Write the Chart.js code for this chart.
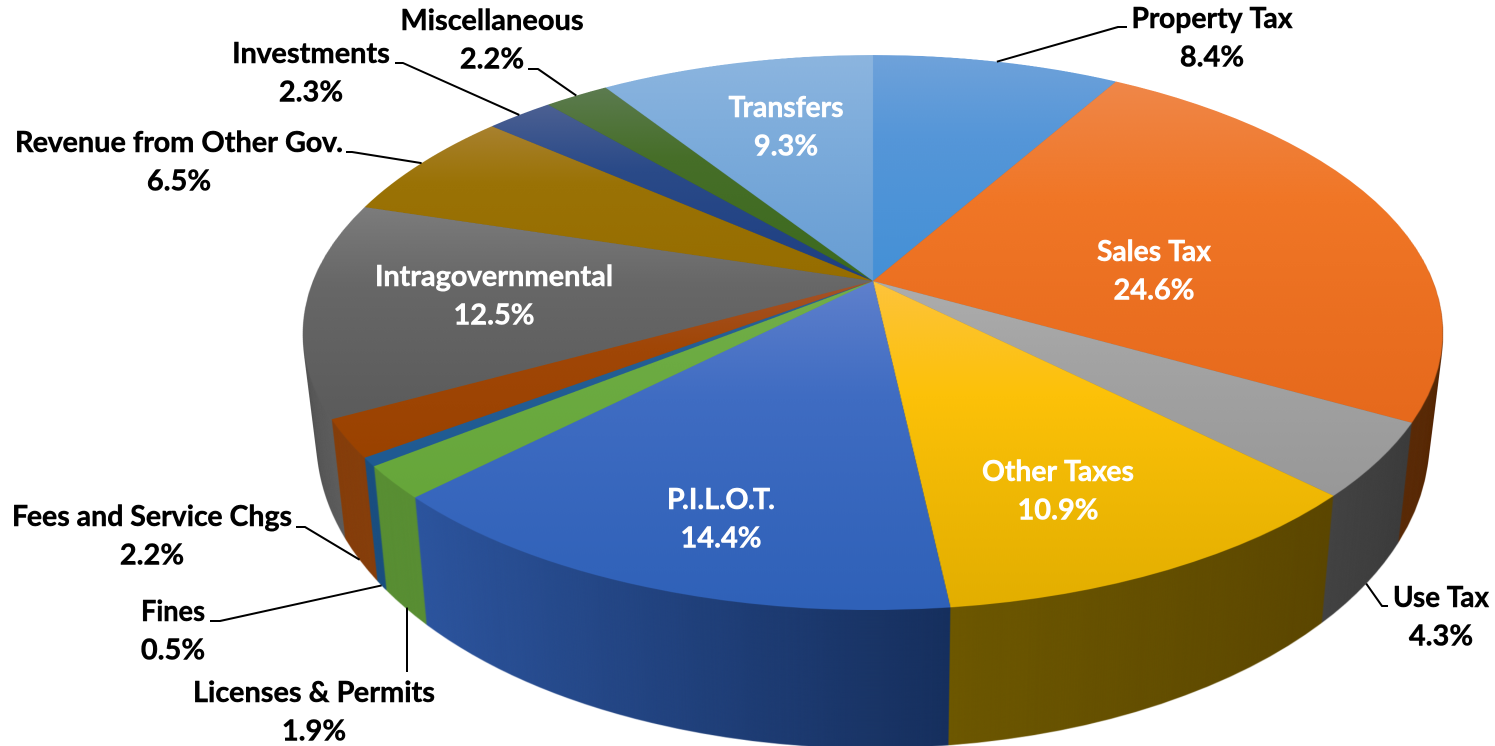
<!DOCTYPE html>
<html><head><meta charset="utf-8">
<style>html,body{margin:0;padding:0;background:#fff}canvas{display:block}</style>
<script src="https://cdn.jsdelivr.net/npm/chart.js@4/dist/chart.umd.min.js"></script>
</head><body><canvas id="c" width="1495" height="746"></canvas>
<script>
const categories=["Property Tax","Sales Tax","Use Tax","Other Taxes","P.I.L.O.T.","Licenses & Permits","Fines","Fees and Service Chgs","Intragovernmental","Revenue from Other Gov.","Investments","Miscellaneous","Transfers"];
const shares=[8.4,24.6,4.3,10.9,14.4,1.9,0.5,2.2,12.5,6.5,2.3,2.2,9.3];
const topColors=["#5b9bd5","#ed7d31","#a5a5a5","#ffc000","#4472c4","#70ad47","#255e91","#9e480e","#636363","#997300","#264478","#43682b","#7cafdd"];
const faceLight=["#6fa2da","#ef8749","#adadad","#fdc33c","#5f80cc","#72ae4a","#2a6296","#a5532a","#7c7c7c","#a8812f","#4c6092","#5c7b50","#8cb5df"];
const faceMid=["#5596d8","#f07626","#a3a3a3","#fcc108","#3f6cc2","#6cab42","#245e94","#a04606","#676767","#9a7205","#2a4a88","#466e28","#7dacdb"];
const faceDeep=["#4490d6","#e6691c","#989898","#e2ae00","#2f61b8","#66a63a","#1f5a92","#9a4200","#5b5b5b","#966d00","#1d3f82","#3c6a1e","#679dd3"];
const rimStart=["#2f5f8f","#5f2f0a","#3e3e3e","#5d4800","#17305e","#5a8f35","#1c5080","#87400e","#5f5f5f","#6a5000","#1a3055","#2e4a1e","#4f7fa8"];
const rimEnd=["#2f5f8f","#5c2d0a","#444444","#6d5800","#2e569f","#5a8f35","#1c5080","#87400e","#5a5a5a","#6a5000","#1a3055","#2e4a1e","#4f7fa8"];

// label layout: centre x, first baseline, text width, white?, leader elbow points
const labelLayout=[
 {x:1212,y:28,w:161,lead:[[1118,27],[1127,27]]},
 {x:1154,y:261,w:114,white:true},
 {x:1441,y:607,w:96,rim:true,lead:[[1382,606],[1388,606]]},
 {x:1058,y:481,w:152,white:true},
 {x:721,y:509,w:108,white:true},
 {x:314,y:702,w:242,rim:true,lead:[[407,672]],vert:true},
 {x:173,y:621,w:64,rim:true,lead:[[220,621],[210,621]]},
 {x:152,y:526,w:280,rim:true,lead:[[305,527],[296,527]]},
 {x:494,y:286,w:243,white:true},
 {x:179,y:152,w:328,lead:[[352,152],[346,152]]},
 {x:311,y:63,w:158,lead:[[403,63],[395,63]]},
 {x:492,y:30,w:184,lead:[[538,69],[528,69]]},
 {x:786,y:117,w:115,white:true}
];
const LINE_GAP=38.5;

// projection of the flat pie onto the tilted disc
const TIP_X=873,TIP_Y=281,PA=267.9,PC=-0.1856,PS=560;
const DEPTH={sx:-0.025,sy:0.1,dy:77.2};

function copyOf(c){const o=document.createElement('canvas');o.width=c.width;o.height=c.height;o.getContext('2d').drawImage(c,0,0);return o;}
function warp(src,cx,cy,R,dpr){
  const o=document.createElement('canvas');o.width=src.width;o.height=src.height;
  const d=o.getContext('2d');d.imageSmoothingEnabled=true;d.imageSmoothingQuality='high';
  const W=src.width;
  for(let row=0;row<o.height;row++){
    const u0=row/dpr-TIP_Y,u1=(row+1)/dpr-TIP_Y;
    const v0=u0/(PA-u0*PC),v1=u1/(PA-u1*PC);
    if(v1<-1.01||v0>1.01)continue;
    const vm=(v0+v1)/2,k=PS/(1+PC*vm)/R;
    d.drawImage(src,0,(cy+v0*R)*dpr,W,(v1-v0)*R*dpr,(TIP_X-cx*k)*dpr,row,W*k,1);
  }
  return o;
}
function project(arc,onBase){
  const th=(arc.startAngle+arc.endAngle)/2;
  const fx=Math.cos(th),v=Math.sin(th),den=1+PC*v;
  let x=TIP_X+PS*fx/den,y=TIP_Y+PA*v/den;
  if(onBase){x=TIP_X+(x-TIP_X)*(1+DEPTH.sx);y=y*(1+DEPTH.sy)+DEPTH.dy;}
  return [x,y];
}
function wipe(ctx,c){ctx.save();ctx.setTransform(1,0,0,1,0,0);ctx.clearRect(0,0,c.width,c.height);ctx.restore();}
function paintWith(a,ctx,fill){const o=a.options;a.options=Object.create(o,{backgroundColor:{value:fill}});a.draw(ctx);a.options=o;}
function yRange(a,cy,R){
  const ys=[cy,cy+R*Math.sin(a.startAngle),cy+R*Math.sin(a.endAngle)];
  [Math.PI/2,-Math.PI/2,Math.PI*1.5].forEach(q=>{if(q>=a.startAngle&&q<=a.endAngle)ys.push(cy+R*Math.sin(q));});
  return [Math.min(...ys),Math.max(...ys)];
}
const pie3d={id:'pie3d',afterDatasetsDraw(chart){
  const ctx=chart.ctx,c=chart.canvas,dpr=chart.currentDevicePixelRatio;
  const arcs=chart.getDatasetMeta(0).data,cx=arcs[0].x,cy=arcs[0].y,R=arcs[0].outerRadius;
  wipe(ctx,c);
  arcs.forEach((a,i)=>{
    const [y0,y1]=yRange(a,cy,R);
    const g=ctx.createLinearGradient(0,y0,0,y1);
    g.addColorStop(0,faceLight[i]);g.addColorStop(0.4,faceMid[i]);g.addColorStop(1,faceDeep[i]);
    paintWith(a,ctx,g);
  });
  const topW=warp(copyOf(c),cx,cy,R,dpr);
  wipe(ctx,c);
  arcs.forEach((a,i)=>{
    const g=ctx.createLinearGradient(cx+R*Math.cos(a.startAngle),0,cx+R*Math.cos(a.endAngle)+0.01,0);
    g.addColorStop(0,rimStart[i]);g.addColorStop(1,rimEnd[i]);
    paintWith(a,ctx,g);
  });
  const rimW=warp(copyOf(c),cx,cy,R,dpr);
  wipe(ctx,c);
  ctx.save();
  const N=150;
  for(let n=N;n>=1;n--){
    const f=n/N,sx=1+DEPTH.sx*f,sy=1+DEPTH.sy*f;
    ctx.setTransform(sx,0,0,sy,TIP_X*dpr*(1-sx),DEPTH.dy*f*dpr);
    ctx.drawImage(rimW,0,0);
  }
  ctx.setTransform(1,0,0,1,0,0);ctx.drawImage(topW,0,0);
  ctx.restore();

  ctx.save();
  ctx.textAlign='center';ctx.textBaseline='alphabetic';ctx.font='700 29px Lato';
  ctx.lineJoin='round';
  labelLayout.forEach((L,i)=>{
    if(L.lead){
      const p=project(arcs[i],L.rim);
      ctx.strokeStyle='#000';ctx.lineWidth=2;
      ctx.beginPath();ctx.moveTo(L.vert?L.lead[0][0]:p[0],p[1]);
      L.lead.forEach(q=>ctx.lineTo(q[0],q[1]));ctx.stroke();
    }
    const col=L.white?'#fff':'#000';
    ctx.fillStyle=col;ctx.strokeStyle=col;ctx.lineWidth=0.5;
    const pct=shares[i].toFixed(1)+'%';
    ctx.fillText(categories[i],L.x,L.y,L.w);ctx.strokeText(categories[i],L.x,L.y,L.w);
    ctx.fillText(pct,L.x,L.y+LINE_GAP);ctx.strokeText(pct,L.x,L.y+LINE_GAP);
  });
  ctx.restore();
}};
new Chart(document.getElementById('c'),{
  type:'pie',
  data:{labels:categories,datasets:[{data:shares,backgroundColor:topColors,borderWidth:0}]},
  options:{responsive:false,animation:false,devicePixelRatio:2,layout:{padding:0},
    plugins:{legend:{display:false},tooltip:{enabled:false}}},
  plugins:[pie3d]
});
</script></body></html>
